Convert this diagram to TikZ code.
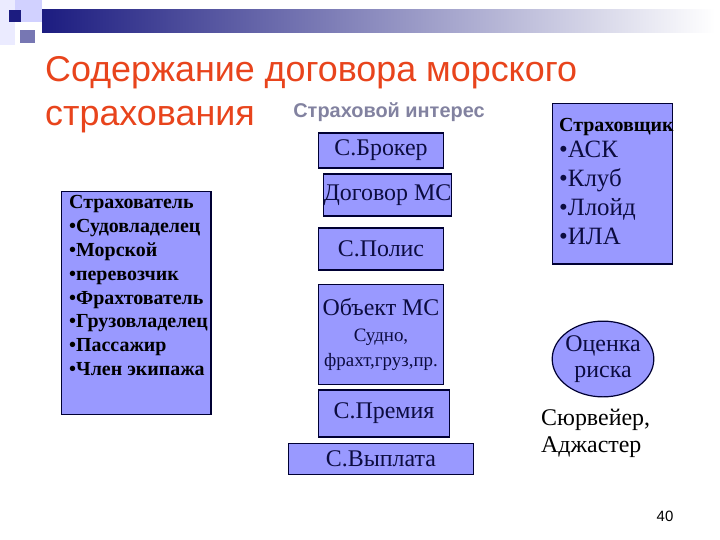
\documentclass[tikz,border=0pt]{standalone}
\usepackage{fontspec}
\setmainfont{Liberation Serif}
\newfontfamily\headfont{Liberation Sans}
\usetikzlibrary{positioning,shapes.geometric}
\definecolor{boxfill}{HTML}{9999FF}
\definecolor{boxline}{HTML}{000033}
\definecolor{boxtext}{HTML}{0C0C40}
\definecolor{titlered}{HTML}{E8441C}
\definecolor{navybar}{HTML}{1C1C80}
\definecolor{interestgray}{HTML}{8282A0}
\newcommand{\fsz}[2]{\fontsize{#1}{#2}\selectfont}

\begin{document}
\begin{tikzpicture}[x=1bp, y=-1bp,
    part/.style={draw=boxline, fill=boxfill, line width=1.2bp, inner sep=0pt, text=boxtext, font=\fsz{24}{26}},
    plain/.style={inner sep=0pt, text=boxtext, align=left}]
    \useasboundingbox (0,0) rectangle (720,540);

    % header decoration
    \fill[blue!8!white] (0,0) rectangle (15,45);
    \fill[blue!18!white] (15,0) rectangle (42,22);
    \fill[navybar!60!white] (20,30) rectangle (35,43);
    \shade[left color=navybar, right color=white] (42,10) rectangle (715,33);
    \fill[navybar] (9,10) rectangle (21,22);

    % title
    \node (title1) [anchor=base west, inner sep=0pt, text=titlered, font=\headfont\fsz{36}{40}] at (45,82) {Содержание договора морского};
    \node (title2) [anchor=base west, inner sep=0pt, text=titlered, font=\headfont\fsz{36}{40}] at (45,126) {страхования};
    \node (interest) [anchor=base, inner sep=0pt, text=interestgray, font=\headfont\bfseries\fsz{20}{22}] at (389,118) {Страховой интерес};

    % insured party
    \node (insured) [part, anchor=north west, minimum width=150, minimum height=224] at (61,191) {};
    \node (insuredlist) [plain, anchor=north west, font=\bfseries\fsz{20}{24}, text=black] at (69,195) {%
        Страхователь\\ •Судовладелец\\ •Морской\\ •перевозчик\\ •Фрахтователь\\ •Грузовладелец\\ •Пассажир\\ •Член экипажа};

    % contract chain
    \node (broker) [part, minimum width=126, minimum height=35] at (381,150.5) {С.Брокер};
    \node (contract) [part, minimum width=127, minimum height=42] at (387.5,195) {Договор МС};
    \node (policy) [part, minimum width=126, minimum height=42] at (381,249) {С.Полис};
    \node (object) [part, minimum width=126, minimum height=101, align=center] at (381,334.5)
        {Объект МС\\ {\fsz{19}{22}Судно,}\\ {\fsz{19}{22}фрахт,груз,пр.}};
    \node (premium) [part, minimum width=132, minimum height=47] at (384,413.5) {С.Премия};
    \node (payout) [part, minimum width=186, minimum height=31] at (381,459) {С.Выплата};

    % insurer
    \node (insurer) [part, anchor=north west, minimum width=120, minimum height=161] at (552,103) {};
    \node (insurerhead) [plain, anchor=base west, font=\bfseries\fsz{20}{22}, text=black] at (559,132) {Страховщик};
    \node (insurerlist) [plain, anchor=north west, font=\fsz{25}{29}] at (559,141) {%
        •АСК\\ •Клуб\\ •Ллойд\\ •ИЛА};

    % risk assessment
    \node (risk) [part, ellipse, inner xsep=-2.5bp, inner ysep=-1bp, minimum width=102, minimum height=76, align=center] at (603,359) {Оценка\\риска};
    \node (surveyor) [plain, anchor=base west, font=\fsz{24}{27}, text=black] at (541,425) {Сюрвейер,};
    \node (adjuster) [plain, anchor=base west, font=\fsz{24}{27}, text=black] at (541,452) {Аджастер};

    \node (pagenum) [inner sep=0pt, font=\headfont\fsz{15}{16}] at (665,516) {40};
\end{tikzpicture}
\end{document}
